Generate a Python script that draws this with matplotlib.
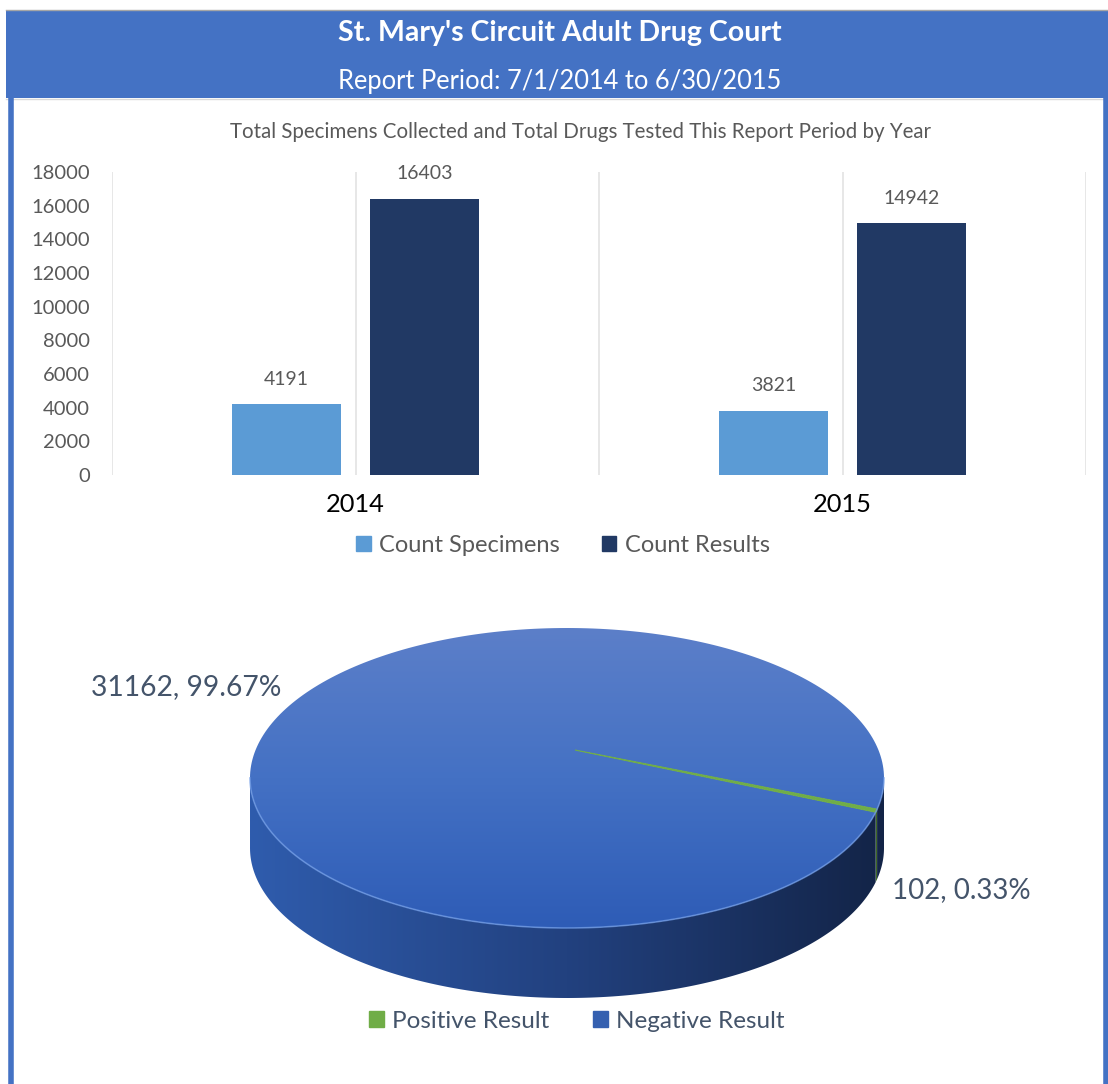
import matplotlib.pyplot as plt
import numpy as np
from matplotlib.patches import Rectangle, Polygon, Patch
from matplotlib.colors import LinearSegmentedColormap

plt.rcParams["font.family"] = ["Lato", "DejaVu Sans"]

# data
years = ["2014", "2015"]
count_specimens = [4191, 3821]
count_results = [16403, 14942]
series_names = ["Count Specimens", "Count Results"]
series_colors = ["#5B9BD5", "#213964"]

result_labels = ["Positive Result", "Negative Result"]
result_counts = [102, 31162]
result_colors = ["#70AD47", "#3560B0"]

title = "St. Mary's Circuit Adult Drug Court"
subtitle = "Report Period: 7/1/2014 to 6/30/2015"
bar_title = "Total Specimens Collected and Total Drugs Tested This Report Period by Year"

W, H = 1108, 1084
fig = plt.figure(figsize=(W / 100, H / 100), dpi=100)

# full-figure canvas in pixel coordinates (y down)
canvas = fig.add_axes([0, 0, 1, 1])
canvas.axis("off")

# header band and frame
canvas.add_patch(Rectangle((6, 10), W - 6, 88, facecolor="#4472C4", edgecolor="none"))
canvas.plot([6, W], [10, 10], color="#A6A6A6", lw=1)
canvas.plot([6, W], [98.5, 98.5], color="#D9D9D9", lw=1)
canvas.plot([11, 11], [98, H], color="#4472C4", lw=4)
canvas.plot([1106, 1106], [98, H], color="#4472C4", lw=4)
canvas.text(560, 33, title, color="white", fontsize=20.5, fontweight="bold",
            ha="center", va="center")
canvas.text(560, 82, subtitle, color="white", fontsize=18.4,
            ha="center", va="center")
canvas.text(580, 132, bar_title, color="#595959", fontsize=14.8,
            ha="center", va="center")

# ---- bar chart ----
ax = fig.add_axes([112 / W, (H - 475) / H, 974 / W, 303 / H])
x = np.arange(len(years))
bw = 0.222
off = 0.1417
b1 = ax.bar(x - off, count_specimens, bw, color=series_colors[0], label=series_names[0], zorder=3)
b2 = ax.bar(x + off, count_results, bw, color=series_colors[1], label=series_names[1], zorder=3)
ax.bar_label(b1, padding=12, color="#595959", fontsize=14)
ax.bar_label(b2, padding=12, color="#595959", fontsize=14)
ax.set_xlim(-0.5, 1.5)
ax.set_ylim(0, 18000)
ax.set_yticks(np.arange(0, 18001, 2000))
ax.set_xticks(x)
ax.set_xticklabels(years, fontsize=18.3, color="black")
ax.set_xticks([-0.5, 0.5, 1.5], minor=True)
ax.grid(axis="x", which="both", color="#E3E3E3", lw=1.2)
ax.set_axisbelow(True)
ax.tick_params(axis="y", length=0, labelsize=14.5, labelcolor="#595959", pad=16)
ax.tick_params(axis="x", which="both", length=0, pad=13)
for s in ax.spines.values():
    s.set_visible(False)
ax.set_facecolor("none")

handles = [Patch(color=c) for c in series_colors]
fig.legend(handles, series_names, loc="center", bbox_to_anchor=(563 / W, 1 - 545 / H),
           ncol=2, frameon=False, fontsize=17, labelcolor="#595959",
           handlelength=0.6, handleheight=0.6, handletextpad=0.35, columnspacing=1.8)

# ---- 3D pie ----
cx, cy, a, b, depth = 567, 778, 317, 150, 70
apex = (575, 750)
start = 12
total = sum(result_counts)
fracs = np.array(result_counts) / total
edges = start + np.concatenate([[0], np.cumsum(fracs) * 360])


def rim(t0, t1, dy=0, n=300):
    t = np.radians(np.linspace(t0, t1, n))
    return np.column_stack([cx + a * np.cos(t), cy + dy + b * np.sin(t)])


top_cmap = LinearSegmentedColormap.from_list("top", ["#5C7FC9", "#4471C4", "#2E5CB6"])
side_cmap = LinearSegmentedColormap.from_list("side", ["#2F5CAD", "#22417F", "#132447"])
side_green = LinearSegmentedColormap.from_list("sg", ["#5E9A3A", "#3F6A26"])

# side walls (front half only)
for i, (t0, t1) in enumerate(zip(edges[:-1], edges[1:])):
    for lo, hi in [(0, 180), (360, 540)]:
        s0, s1 = max(t0, lo), min(t1, hi)
        if s1 <= s0:
            continue
        pts = np.vstack([rim(s0, s1), rim(s1, s0, dy=depth)])
        poly = Polygon(pts, closed=True, facecolor="none", edgecolor="none")
        canvas.add_patch(poly)
        cmap = side_cmap if i == 1 else side_green
        im = canvas.imshow(np.linspace(0, 1, 256).reshape(1, -1), cmap=cmap,
                           extent=(cx - a, cx + a, cy + b + depth, cy - b),
                           aspect="auto", zorder=2)
        im.set_clip_path(poly)

# top face
for i, (t0, t1) in enumerate(zip(edges[:-1], edges[1:])):
    pts = np.vstack([[apex], rim(t0, t1)])
    if i == 1:
        poly = Polygon(pts, closed=True, facecolor="none", edgecolor="none")
        canvas.add_patch(poly)
        im = canvas.imshow(np.linspace(0, 1, 256).reshape(-1, 1), cmap=top_cmap,
                           extent=(cx - a, cx + a, cy + b, cy - b),
                           aspect="auto", zorder=3)
        im.set_clip_path(poly)
    else:
        canvas.add_patch(Polygon(pts, closed=True, facecolor=result_colors[0],
                                 edgecolor=result_colors[0], lw=0.8, zorder=4))

front = rim(0, 180)
canvas.plot(front[:, 0], front[:, 1], color="#6F9BE6", lw=1.2, alpha=0.7, zorder=5)

labels = [f"{v}, {v / total:.2%}" for v in result_counts]
canvas.text(892, 890, labels[0], color="#44546A", fontsize=20, ha="left", va="center")
canvas.text(186, 687, labels[1], color="#44546A", fontsize=20.3, ha="center", va="center")

handles = [Patch(color=c) for c in result_colors]
fig.legend(handles, result_labels, loc="center", bbox_to_anchor=(577 / W, 1 - 1021 / H),
           ncol=2, frameon=False, fontsize=17.5, labelcolor="#44546A",
           handlelength=0.6, handleheight=0.6, handletextpad=0.35, columnspacing=1.8)

canvas.set_xlim(0, W)
canvas.set_ylim(H, 0)

fig.savefig("out.png", dpi=100, facecolor="white")
